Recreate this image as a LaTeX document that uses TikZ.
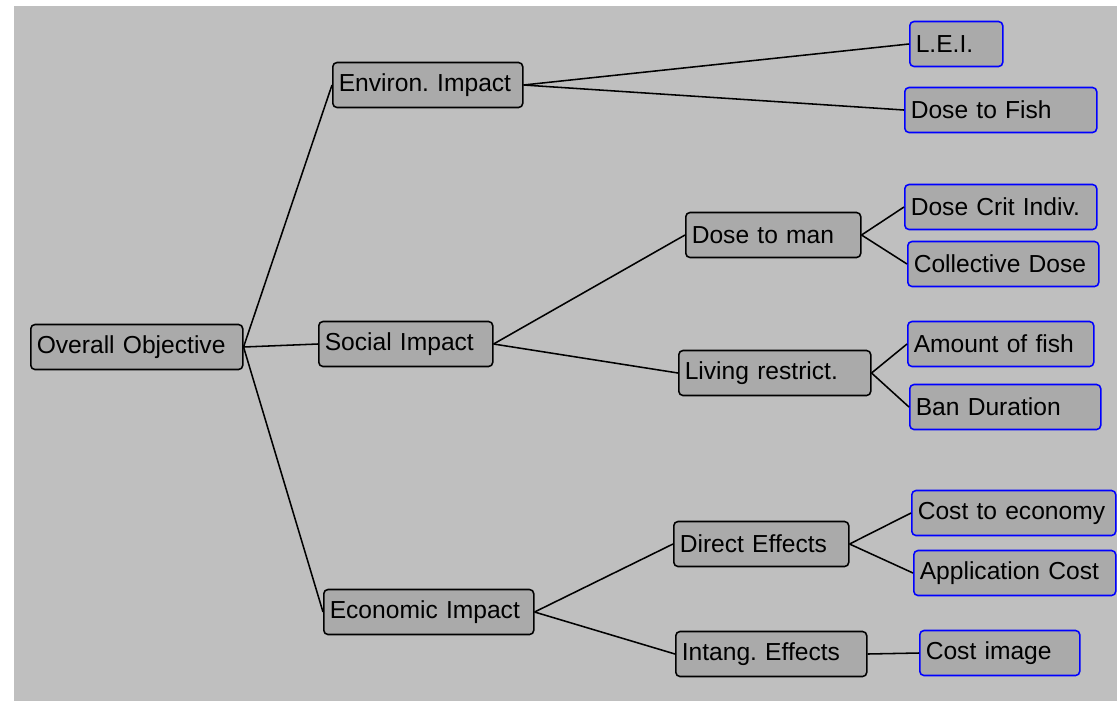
\documentclass[tikz,border=0pt]{standalone}
\usepackage{fontspec}
\setmainfont{Liberation Sans}
\usetikzlibrary{positioning}
\frenchspacing

\definecolor{bggray}{HTML}{BFBFBF}
\definecolor{boxgray}{HTML}{AAAAAA}
\definecolor{leafblue}{HTML}{0000FF}

\begin{document}
\begin{tikzpicture}[
  x=0.025cm, y=-0.025cm,
  font=\fontsize{17.5}{20}\selectfont,
  wd/.code={\pgfmathsetlengthmacro\boxtw{#1*0.025cm-0.3cm}%
    \edef\tmpkeys{\noexpand\pgfkeysalso{text width=\boxtw}}\tmpkeys},
  box/.style={draw, line width=1.1pt, rounded corners=3pt, fill=boxgray, anchor=west,
    inner xsep=0.15cm, inner ysep=0pt, minimum height=1.125cm, align=left},
  leaf/.style={box, draw=leafblue},
  link/.style={line width=1.1pt}
]
  \useasboundingbox (0,0) rectangle (1117,700);
  \fill[bggray] (14,6) rectangle (1118,701);

  % main branches
  \node[box, wd=212] (ovr) at (30,347) {Overall Objective};
  \node[box, wd=190] (env) at (332,85) {Environ. Impact};
  \node[box, wd=174] (soc) at (318,344) {Social Impact};
  \node[box, wd=210] (eco) at (323,612) {Economic Impact};

  % sub criteria
  \node[box, wd=175] (dman) at (685,235) {Dose to man};
  \node[box, wd=192] (liv) at (678,373) {Living restrict.};
  \node[box, wd=175] (dir) at (673,544) {Direct Effects};
  \node[box, wd=191] (intg) at (675,654) {Intang. Effects};

  % leaves
  \node[leaf, wd=93] (lei) at (909,44) {L.E.I.};
  \node[leaf, wd=192] (dfish) at (904,110) {Dose to Fish};
  \node[leaf, wd=192] (dcrit) at (904,207) {Dose Crit Indiv.};
  \node[leaf, wd=191] (coll) at (907,264) {Collective Dose};
  \node[leaf, wd=186] (amt) at (907,344) {Amount of fish};
  \node[leaf, wd=191] (ban) at (909,407) {Ban Duration};
  \node[leaf, wd=204] (cecon) at (911,513) {Cost to economy};
  \node[leaf, wd=202] (appl) at (913,573) {Application Cost};
  \node[leaf, wd=160] (cimg) at (919,653) {Cost image};

  \draw[link] (ovr.east) -- (env.west);
  \draw[link] (ovr.east) -- (soc.west);
  \draw[link] (ovr.east) -- (eco.west);
  \draw[link] (env.east) -- (lei.west);
  \draw[link] (env.east) -- (dfish.west);
  \draw[link] (soc.east) -- (dman.west);
  \draw[link] (soc.east) -- (liv.west);
  \draw[link] (eco.east) -- (dir.west);
  \draw[link] (eco.east) -- (intg.west);
  \draw[link] (dman.east) -- (dcrit.west);
  \draw[link] (dman.east) -- (coll.west);
  \draw[link] (liv.east) -- (amt.west);
  \draw[link] (liv.east) -- (ban.west);
  \draw[link] (dir.east) -- (cecon.west);
  \draw[link] (dir.east) -- (appl.west);
  \draw[link] (intg.east) -- (cimg.west);
\end{tikzpicture}
\end{document}
